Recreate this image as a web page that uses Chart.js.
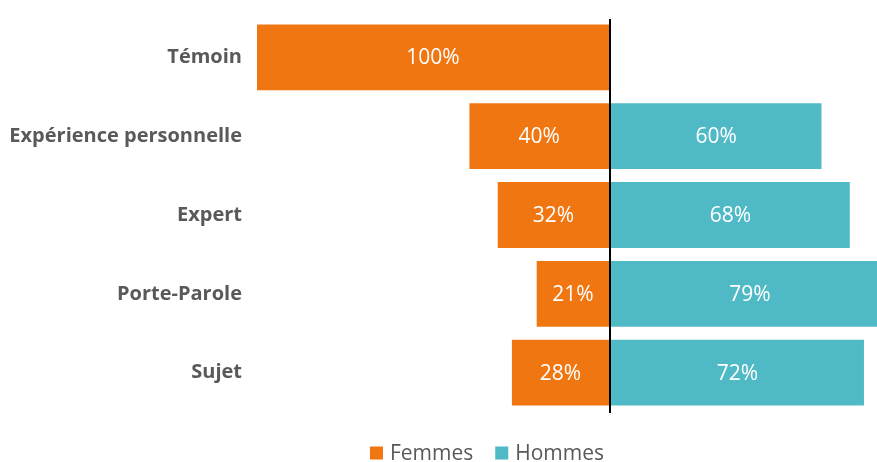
<!DOCTYPE html>
<html>
<head>
<meta charset="utf-8">
<script src="https://cdn.jsdelivr.net/npm/chart.js@4"></script>
<style>
  html, body { margin: 0; padding: 0; background: #fff; }
  #wrap { width: 877px; height: 462px; }
</style>
</head>
<body>
<div id="wrap"><canvas id="chart"></canvas></div>
<script>
// données
const categories = ['Témoin', 'Expérience personnelle', 'Expert', 'Porte-Parole', 'Sujet'];
const femmes = [100, 40, 32, 21, 28];
const hommes = [null, 60, 68, 79, 72];

const ORANGE = '#F07612';
const TEAL = '#50B9C6';
const GREY = '#595959';

// étiquettes de valeur au centre de chaque barre
const valueLabels = {
    id: 'valueLabels',
    afterDatasetsDraw(chart) {
        const ctx = chart.ctx;
        ctx.save();
        ctx.fillStyle = '#fff';
        ctx.font = '21px "Open Sans"';
        ctx.textAlign = 'center';
        ctx.textBaseline = 'middle';
        chart.data.datasets.forEach((ds, i) => {
            chart.getDatasetMeta(i).data.forEach((bar, j) => {
                const v = ds.data[j];
                if (v === null || v === undefined) return;
                const cx = (bar.x + bar.base) / 2;
                ctx.fillText(Math.abs(v) + '%', cx, bar.y + 1);
            });
        });
        ctx.restore();
    }
};

// ligne verticale au zéro
const zeroLine = {
    id: 'zeroLine',
    afterDatasetsDraw(chart) {
        const x = Math.round(chart.scales.x.getPixelForValue(0));
        const area = chart.chartArea;
        const ctx = chart.ctx;
        ctx.save();
        ctx.strokeStyle = '#000';
        ctx.lineWidth = 2;
        ctx.beginPath();
        ctx.moveTo(x, area.top + 1);
        ctx.lineTo(x, area.bottom + 1);
        ctx.stroke();
        ctx.restore();
    }
};

// légende dessinée à la main (centrée comme dans l'original)
const bottomLegend = {
    id: 'bottomLegend',
    afterDraw(chart) {
        const ctx = chart.ctx;
        const box = 13, gap = 7, spacing = 22, y = 453;
        ctx.save();
        ctx.font = '21px "Open Sans"';
        ctx.textBaseline = 'middle';
        const items = chart.data.datasets.map(ds => ({
            text: ds.label, color: ds.backgroundColor, w: ctx.measureText(ds.label).width
        }));
        const total = items.reduce((s, it) => s + box + gap + it.w, 0) + spacing * (items.length - 1);
        let x = 487 - total / 2;
        items.forEach(it => {
            ctx.fillStyle = it.color;
            ctx.fillRect(x, y - box / 2, box, box);
            ctx.fillStyle = GREY;
            ctx.fillText(it.text, x + box + gap, y + 1);
            x += box + gap + it.w + spacing;
        });
        ctx.restore();
    }
};

new Chart(document.getElementById('chart'), {
    type: 'bar',
    data: {
        labels: categories,
        datasets: [{
            label: 'Femmes',
            data: femmes.map(v => -v),
            backgroundColor: ORANGE,
            borderColor: 'rgba(255,255,255,0.35)',
            borderWidth: 1,
            borderSkipped: false
        }, {
            label: 'Hommes',
            data: hommes,
            backgroundColor: TEAL,
            borderColor: 'rgba(255,255,255,0.35)',
            borderWidth: 1,
            borderSkipped: false
        }]
    },
    options: {
        indexAxis: 'y',
        responsive: true,
        maintainAspectRatio: false,
        animation: false,
        categoryPercentage: 1,
        barPercentage: 0.86,
        layout: { padding: { top: -2.5, right: 0, left: 0, bottom: 50 } },
        scales: {
            x: {
                stacked: true,
                display: false,
                min: -100,
                max: 75.4
            },
            y: {
                stacked: true,
                grid: { display: false },
                border: { display: false },
                ticks: {
                    color: GREY,
                    font: { family: 'Open Sans', size: 20, weight: 'bold' },
                    padding: 6
                },
                afterFit: (scale) => { scale.width = 256; }
            }
        },
        plugins: {
            legend: { display: false },
            tooltip: { enabled: false }
        }
    },
    plugins: [valueLabels, zeroLine, bottomLegend]
});
</script>
</body>
</html>
